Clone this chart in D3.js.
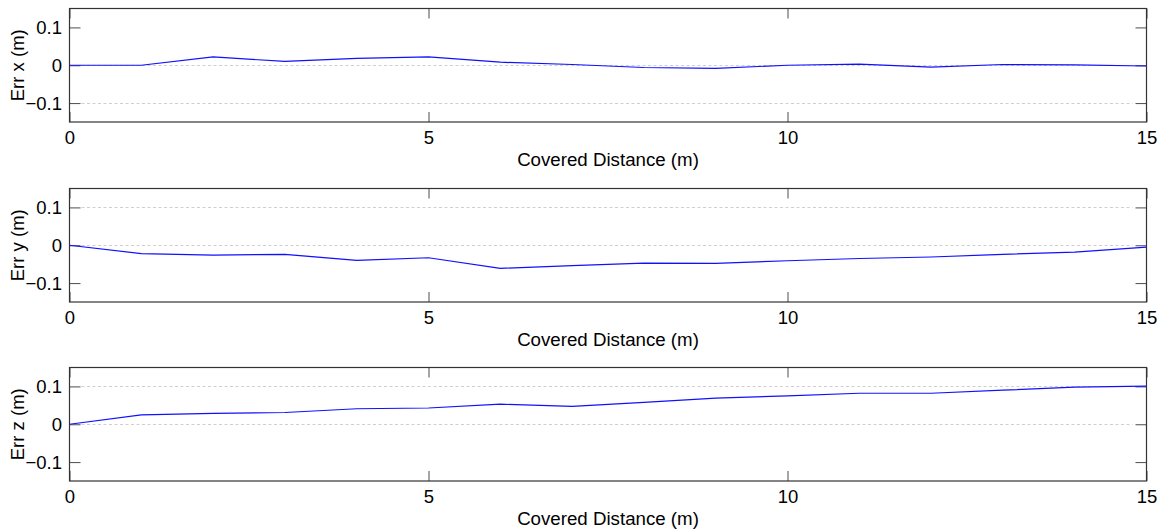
<!DOCTYPE html>
<html lang="en">
<head>
    <meta charset="UTF-8">
    <title>Err x / y / z vs Covered Distance</title>
    <script src="https://d3js.org/d3.v7.min.js"></script>
    <style>
        body { margin: 0; background: #fff; }
        svg { display: block; font-family: Arial, "Liberation Sans", sans-serif; }
        .tick text { font-size: 18.5px; fill: #000; }
        .tick line { stroke: #4d4d4d; }
    </style>
</head>
<body>
    <script>
        // data
        const distance = [0, 1, 2, 3, 4, 5, 6, 7, 8, 9, 10, 11, 12, 13, 14, 15];
        const errX = [0, 0, 0.022, 0.01, 0.018, 0.022, 0.008, 0.002, -0.006, -0.008, 0, 0.003, -0.005, 0.002, 0.001, -0.002];
        const errY = [0, -0.022, -0.026, -0.024, -0.04, -0.033, -0.061, -0.054, -0.047, -0.048, -0.041, -0.035, -0.031, -0.024, -0.018, -0.005];
        const errZ = [0, 0.025, 0.029, 0.031, 0.041, 0.043, 0.053, 0.047, 0.058, 0.069, 0.075, 0.082, 0.082, 0.09, 0.098, 0.101];
        const xTicks = [0, 5, 10, 15];
        const yTicks = [-0.1, 0, 0.1];
        const gridX = [-0.1, 0];
        const gridY = [0, 0.1];
        const gridZ = [0, 0.1];
        const yLabels = ["Err x (m)", "Err y (m)", "Err z (m)"];
        const xLabel = "Covered Distance (m)";

        const w = 1163;
        const h = 529;
        const left = 69.5;
        const right = 1146.5;
        const tops = [8.5, 188.5, 367.5];
        const hPlot = 113.5;

        const svg = d3.select("body").append("svg")
            .attr("width", w)
            .attr("height", h);

        const x = d3.scaleLinear().domain([0, 15]).range([left, right]);

        const panels = [
            { vals: errX, grid: gridX },
            { vals: errY, grid: gridY },
            { vals: errZ, grid: gridZ }
        ];

        panels.forEach(function(p, i) {
            const top = tops[i];
            const y = d3.scaleLinear().domain([-0.15, 0.15]).range([top + hPlot, top]);
            const g = svg.append("g");

            //dashed grid lines
            g.selectAll(".grid")
                .data(p.grid)
                .enter()
                .append("line")
                .attr("x1", left + 12)
                .attr("x2", right - 14)
                .attr("y1", d => Math.round(y(d)) + 0.5)
                .attr("y2", d => Math.round(y(d)) + 0.5)
                .attr("stroke", "#cfcfcf")
                .attr("stroke-width", 1)
                .attr("stroke-dasharray", "3,2.5");

            //axes, ticks pointing inside like matlab
            g.append("g")
                .attr("transform", "translate(" + left + ",0)")
                .call(d3.axisLeft(y).tickValues(yTicks).tickSizeInner(-11).tickSizeOuter(0).tickPadding(7.5)
                    .tickFormat(d => d === 0 ? "0" : d3.format(".1f")(d)))
                .call(a => a.select(".domain").remove());

            g.append("g")
                .attr("transform", "translate(" + right + ",0)")
                .call(d3.axisRight(y).tickValues(yTicks).tickSizeInner(-11).tickSizeOuter(0).tickFormat(""))
                .call(a => a.select(".domain").remove());

            g.append("g")
                .attr("transform", "translate(0," + (top + hPlot) + ")")
                .call(d3.axisBottom(x).tickValues(xTicks).tickSizeInner(-10).tickSizeOuter(0).tickPadding(9))
                .call(a => a.select(".domain").remove());

            g.append("g")
                .attr("transform", "translate(0," + top + ")")
                .call(d3.axisTop(x).tickValues(xTicks).tickSizeInner(-10).tickSizeOuter(0).tickFormat(""))
                .call(a => a.select(".domain").remove());

            g.selectAll(".tick text").attr("font-family", null).attr("font-size", null);

            //data line
            const line = d3.line()
                .x((d, j) => x(distance[j]))
                .y(d => y(d));

            g.append("path")
                .datum(p.vals)
                .attr("d", line)
                .attr("fill", "none")
                .attr("stroke", "#1010ff")
                .attr("stroke-width", 1.2);

            //frame
            g.append("rect")
                .attr("x", left)
                .attr("y", top)
                .attr("width", right - left)
                .attr("height", hPlot)
                .attr("fill", "none")
                .attr("stroke", "#333")
                .attr("stroke-width", 1.2);

            //labels
            g.append("text")
                .attr("transform", "translate(24," + (top + hPlot / 2) + ") rotate(-90)")
                .attr("text-anchor", "middle")
                .attr("font-size", 18.5)
                .text(yLabels[i]);

            g.append("text")
                .attr("x", (left + right) / 2)
                .attr("y", top + hPlot + 43.5)
                .attr("text-anchor", "middle")
                .attr("font-size", 18.7)
                .text(xLabel);
        });
    </script>
</body>
</html>
